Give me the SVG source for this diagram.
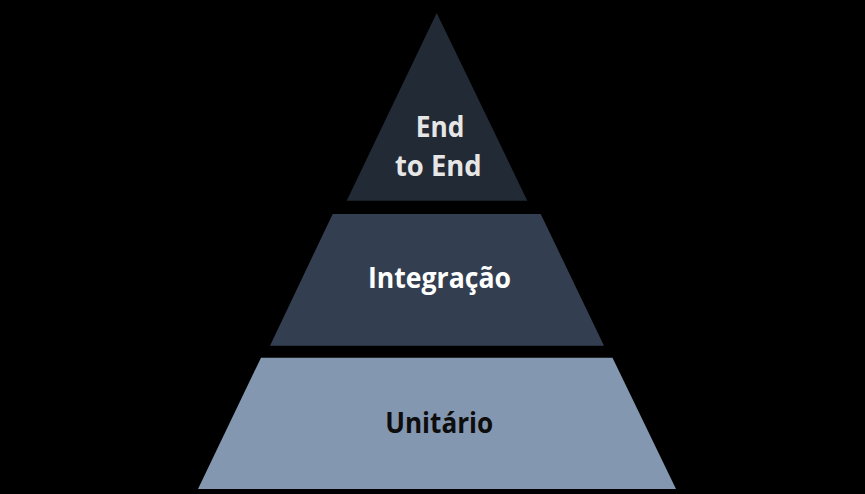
<svg xmlns="http://www.w3.org/2000/svg" width="865" height="494" viewBox="0 0 865 494">
  <style>
    .lbl { font-family: "Open Sans", "Noto Sans", "Liberation Sans", sans-serif; font-weight: bold; font-size: 28px; text-anchor: middle; }
    .top { fill: #222A35; }
    .mid { fill: #333F50; }
    .bot { fill: #8497B0; }
    .t-top { fill: #E7E6E6; }
    .t-mid { fill: #FFFFFF; }
    .t-bot { fill: #0D0D0D; }
  </style>
  <rect x="0" y="0" width="865" height="494" fill="#000000"/>
  <g id="node-end-to-end">
    <polygon class="top" points="436.7,13 527.3,200.7 346.7,200.7"/>
    <text class="lbl t-top" x="440" y="136.7" textLength="48.6" lengthAdjust="spacingAndGlyphs">End</text>
    <text class="lbl t-top" x="438.3" y="176" textLength="86.7" lengthAdjust="spacingAndGlyphs">to End</text>
  </g>
  <g id="node-integracao">
    <polygon class="mid" points="332.7,214 540.7,214 604,345.7 270,345.7"/>
    <text class="lbl t-mid" x="439.5" y="287.5" textLength="143" lengthAdjust="spacingAndGlyphs">Integração</text>
  </g>
  <g id="node-unitario">
    <polygon class="bot" points="261,357.7 612.5,357.7 676,489 198,489"/>
    <text class="lbl t-bot" x="439.2" y="432.7" textLength="108" lengthAdjust="spacingAndGlyphs">Unitário</text>
  </g>
</svg>
